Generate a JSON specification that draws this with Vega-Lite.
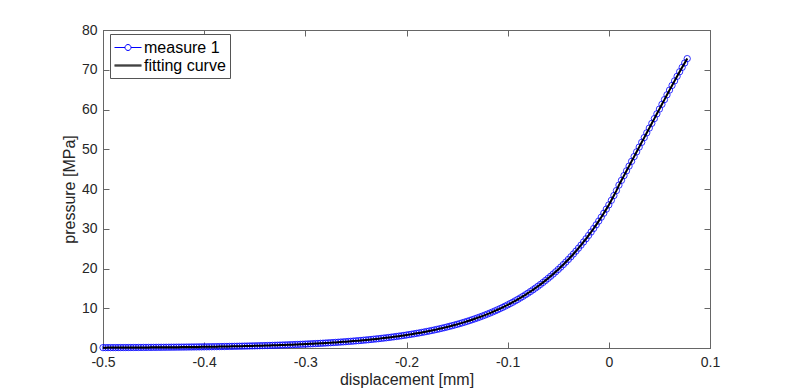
{
  "$schema": "https://vega.github.io/schema/vega-lite/v6.json",
  "width": 607,
  "height": 318,
  "autosize": "none",
  "padding": {"left": 103, "top": 30, "right": 75, "bottom": 44},
  "background": "white",
  "config": {
    "font": "Liberation Sans",
    "view": {"stroke": "#666666", "strokeWidth": 1}
  },
  "data": {"values": [
    {"x":-0.5,"p":0.089},{"x":-0.4975,"p":0.092},{"x":-0.495,"p":0.095},{"x":-0.4925,"p":0.097},
    {"x":-0.49,"p":0.100},{"x":-0.4875,"p":0.103},{"x":-0.485,"p":0.106},{"x":-0.4825,"p":0.109},
    {"x":-0.48,"p":0.113},{"x":-0.4775,"p":0.116},{"x":-0.475,"p":0.120},{"x":-0.4725,"p":0.124},
    {"x":-0.47,"p":0.128},{"x":-0.4675,"p":0.132},{"x":-0.465,"p":0.136},{"x":-0.4625,"p":0.140},
    {"x":-0.46,"p":0.144},{"x":-0.4575,"p":0.148},{"x":-0.455,"p":0.153},{"x":-0.4525,"p":0.158},
    {"x":-0.45,"p":0.163},{"x":-0.4475,"p":0.168},{"x":-0.445,"p":0.173},{"x":-0.4425,"p":0.178},
    {"x":-0.44,"p":0.183},{"x":-0.4375,"p":0.189},{"x":-0.435,"p":0.195},{"x":-0.4325,"p":0.201},
    {"x":-0.43,"p":0.207},{"x":-0.4275,"p":0.213},{"x":-0.425,"p":0.220},{"x":-0.4225,"p":0.226},
    {"x":-0.42,"p":0.233},{"x":-0.4175,"p":0.240},{"x":-0.415,"p":0.247},{"x":-0.4125,"p":0.255},
    {"x":-0.41,"p":0.263},{"x":-0.4075,"p":0.271},{"x":-0.405,"p":0.279},{"x":-0.4025,"p":0.288},
    {"x":-0.4,"p":0.296},{"x":-0.3975,"p":0.305},{"x":-0.395,"p":0.315},{"x":-0.3925,"p":0.324},
    {"x":-0.39,"p":0.334},{"x":-0.3875,"p":0.344},{"x":-0.385,"p":0.355},{"x":-0.3825,"p":0.366},
    {"x":-0.38,"p":0.377},{"x":-0.3775,"p":0.388},{"x":-0.375,"p":0.400},{"x":-0.3725,"p":0.412},
    {"x":-0.37,"p":0.425},{"x":-0.3675,"p":0.438},{"x":-0.365,"p":0.451},{"x":-0.3625,"p":0.465},
    {"x":-0.36,"p":0.479},{"x":-0.3575,"p":0.494},{"x":-0.355,"p":0.509},{"x":-0.3525,"p":0.524},
    {"x":-0.35,"p":0.540},{"x":-0.3475,"p":0.556},{"x":-0.345,"p":0.573},{"x":-0.3425,"p":0.591},
    {"x":-0.34,"p":0.609},{"x":-0.3375,"p":0.627},{"x":-0.335,"p":0.647},{"x":-0.3325,"p":0.666},
    {"x":-0.33,"p":0.686},{"x":-0.3275,"p":0.707},{"x":-0.325,"p":0.729},{"x":-0.3225,"p":0.751},
    {"x":-0.32,"p":0.774},{"x":-0.3175,"p":0.797},{"x":-0.315,"p":0.822},{"x":-0.3125,"p":0.847},
    {"x":-0.31,"p":0.872},{"x":-0.3075,"p":0.899},{"x":-0.305,"p":0.926},{"x":-0.3025,"p":0.954},
    {"x":-0.3,"p":0.984},{"x":-0.2975,"p":1.014},{"x":-0.295,"p":1.045},{"x":-0.2925,"p":1.077},
    {"x":-0.29,"p":1.109},{"x":-0.2875,"p":1.143},{"x":-0.285,"p":1.178},{"x":-0.2825,"p":1.213},
    {"x":-0.28,"p":1.251},{"x":-0.2775,"p":1.289},{"x":-0.275,"p":1.328},{"x":-0.2725,"p":1.369},
    {"x":-0.27,"p":1.410},{"x":-0.2675,"p":1.453},{"x":-0.265,"p":1.497},{"x":-0.2625,"p":1.543},
    {"x":-0.26,"p":1.590},{"x":-0.2575,"p":1.638},{"x":-0.255,"p":1.688},{"x":-0.2525,"p":1.740},
    {"x":-0.25,"p":1.792},{"x":-0.2475,"p":1.847},{"x":-0.245,"p":1.903},{"x":-0.2425,"p":1.961},
    {"x":-0.24,"p":2.021},{"x":-0.2375,"p":2.083},{"x":-0.235,"p":2.146},{"x":-0.2325,"p":2.211},
    {"x":-0.23,"p":2.279},{"x":-0.2275,"p":2.348},{"x":-0.225,"p":2.420},{"x":-0.2225,"p":2.494},
    {"x":-0.22,"p":2.569},{"x":-0.2175,"p":2.647},{"x":-0.215,"p":2.728},{"x":-0.2125,"p":2.811},
    {"x":-0.21,"p":2.897},{"x":-0.2075,"p":2.985},{"x":-0.205,"p":3.076},{"x":-0.2025,"p":3.170},
    {"x":-0.2,"p":3.266},{"x":-0.1975,"p":3.365},{"x":-0.195,"p":3.468},{"x":-0.1925,"p":3.574},
    {"x":-0.19,"p":3.683},{"x":-0.1875,"p":3.795},{"x":-0.185,"p":3.911},{"x":-0.1825,"p":4.030},
    {"x":-0.18,"p":4.152},{"x":-0.1775,"p":4.278},{"x":-0.175,"p":4.409},{"x":-0.1725,"p":4.543},
    {"x":-0.17,"p":4.681},{"x":-0.1675,"p":4.824},{"x":-0.165,"p":4.971},{"x":-0.1625,"p":5.122},
    {"x":-0.16,"p":5.278},{"x":-0.1575,"p":5.439},{"x":-0.155,"p":5.604},{"x":-0.1525,"p":5.775},
    {"x":-0.15,"p":5.951},{"x":-0.1475,"p":6.132},{"x":-0.145,"p":6.319},{"x":-0.1425,"p":6.511},
    {"x":-0.14,"p":6.710},{"x":-0.1375,"p":6.914},{"x":-0.135,"p":7.125},{"x":-0.1325,"p":7.342},
    {"x":-0.13,"p":7.565},{"x":-0.1275,"p":7.795},{"x":-0.125,"p":8.033},{"x":-0.1225,"p":8.277},
    {"x":-0.12,"p":8.530},{"x":-0.1175,"p":8.790},{"x":-0.115,"p":9.058},{"x":-0.1125,"p":9.333},
    {"x":-0.11,"p":9.617},{"x":-0.1075,"p":9.910},{"x":-0.105,"p":10.212},{"x":-0.1025,"p":10.523},
    {"x":-0.1,"p":10.843},{"x":-0.0975,"p":11.173},{"x":-0.095,"p":11.513},{"x":-0.0925,"p":11.864},
    {"x":-0.09,"p":12.226},{"x":-0.0875,"p":12.598},{"x":-0.085,"p":12.982},{"x":-0.0825,"p":13.377},
    {"x":-0.08,"p":13.785},{"x":-0.0775,"p":14.205},{"x":-0.075,"p":14.637},{"x":-0.0725,"p":15.083},
    {"x":-0.07,"p":15.542},{"x":-0.0675,"p":16.015},{"x":-0.065,"p":16.503},{"x":-0.0625,"p":17.005},
    {"x":-0.06,"p":17.524},{"x":-0.0575,"p":18.057},{"x":-0.055,"p":18.608},{"x":-0.0525,"p":19.174},
    {"x":-0.05,"p":19.758},{"x":-0.0475,"p":20.360},{"x":-0.045,"p":20.980},{"x":-0.0425,"p":21.619},
    {"x":-0.04,"p":22.277},{"x":-0.0375,"p":22.955},{"x":-0.035,"p":23.655},{"x":-0.0325,"p":24.375},
    {"x":-0.03,"p":25.117},{"x":-0.0275,"p":25.882},{"x":-0.025,"p":26.670},{"x":-0.0225,"p":27.482},
    {"x":-0.02,"p":28.319},{"x":-0.0175,"p":29.181},{"x":-0.015,"p":30.070},{"x":-0.0125,"p":30.986},
    {"x":-0.01,"p":31.929},{"x":-0.0075,"p":32.901},{"x":-0.005,"p":33.904},{"x":-0.0025,"p":34.936},
    {"x":0,"p":36.0},{"x":0.0025,"p":37.15},{"x":0.005,"p":38.35},{"x":0.0075,"p":39.6},
    {"x":0.01,"p":40.98},{"x":0.0125,"p":42.18},{"x":0.015,"p":43.37},{"x":0.0175,"p":44.57},
    {"x":0.02,"p":45.76},{"x":0.0225,"p":46.96},{"x":0.025,"p":48.15},{"x":0.0275,"p":49.35},
    {"x":0.03,"p":50.54},{"x":0.0325,"p":51.74},{"x":0.035,"p":52.93},{"x":0.0375,"p":54.13},
    {"x":0.04,"p":55.32},{"x":0.0425,"p":56.52},{"x":0.045,"p":57.71},{"x":0.0475,"p":58.91},
    {"x":0.05,"p":60.1},{"x":0.0525,"p":61.3},{"x":0.055,"p":62.49},{"x":0.0575,"p":63.69},
    {"x":0.06,"p":64.88},{"x":0.0625,"p":66.05},{"x":0.065,"p":67.2},{"x":0.0675,"p":68.35},
    {"x":0.07,"p":69.5},{"x":0.0725,"p":70.6},{"x":0.075,"p":71.7},{"x":0.0775,"p":72.8}
  ]},
  "layer": [
    {
      "mark": {"type": "line", "strokeWidth": 0.8, "opacity": 0.6},
      "encoding": {
        "x": {"field": "x", "type": "quantitative",
          "scale": {"domain": [-0.5, 0.1], "nice": false, "zero": false},
          "axis": {"orient": "bottom", "values": [-0.5, -0.4, -0.3, -0.2, -0.1, 0, 0.1],
            "labelExpr": "datum.value == 0 ? '0' : (datum.value < 0 ? '-' : '') + format(abs(datum.value), '.1f')",
            "tickSize": -6, "tickColor": "#666666", "domainColor": "#666666", "grid": false,
            "labelFont": "Liberation Sans", "labelFontSize": 14, "labelColor": "#262626", "labelPadding": 13,
            "labelFlush": false, "labelOverlap": false,
            "title": "displacement [mm]", "titleFont": "Liberation Sans", "titleFontSize": 16, "titleFontWeight": "normal", "titleColor": "#262626", "titlePadding": 2}},
        "y": {"field": "p", "type": "quantitative",
          "scale": {"domain": [0, 80], "nice": false},
          "axis": {"orient": "left", "values": [0, 10, 20, 30, 40, 50, 60, 70, 80],
            "tickSize": -6, "tickColor": "#666666", "domainColor": "#666666", "grid": false,
            "labelFont": "Liberation Sans", "labelFontSize": 14, "labelColor": "#262626", "labelPadding": 12,
            "labelFlush": false, "labelOverlap": false,
            "title": "pressure [MPa]", "titleFont": "Liberation Sans", "titleFontSize": 16, "titleFontWeight": "normal", "titleColor": "#262626", "titlePadding": 4}},
        "color": {"datum": "measure 1",
          "scale": {"domain": ["measure 1", "fitting curve"], "range": ["#0000ff", "#000000"]},
          "legend": {"orient": "none", "legendX": 7, "legendY": 4, "title": null,
            "strokeColor": "#555555", "fillColor": "white", "padding": 4,
            "labelFont": "Liberation Sans", "labelFontSize": 16, "labelColor": "#000000",
            "symbolSize": 324, "labelOffset": 11, "rowPadding": 0, "symbolStrokeWidth": 1,
            "symbolFillColor": "transparent", "symbolOpacity": 1}}
      }
    },
    {
      "mark": {"type": "point", "filled": false, "size": 40, "strokeWidth": 0.8, "opacity": 1},
      "encoding": {
        "x": {"field": "x", "type": "quantitative", "axis": null},
        "y": {"field": "p", "type": "quantitative", "axis": null},
        "color": {"datum": "measure 1"}
      }
    },
    {
      "mark": {"type": "line", "strokeWidth": 2},
      "encoding": {
        "x": {"field": "x", "type": "quantitative",
          "axis": {"orient": "top", "values": [-0.5, -0.4, -0.3, -0.2, -0.1, 0, 0.1], "tickSize": -6, "tickColor": "#666666", "domainColor": "#666666", "grid": false, "labels": false, "title": null}},
        "y": {"field": "p", "type": "quantitative",
          "axis": {"orient": "right", "values": [0, 10, 20, 30, 40, 50, 60, 70, 80], "tickSize": -6, "tickColor": "#666666", "domainColor": "#666666", "grid": false, "labels": false, "title": null}},
        "color": {"datum": "fitting curve"}
      }
    },
    {
      "transform": [{"filter": "false"}],
      "mark": {"type": "point", "filled": false},
      "encoding": {
        "x": {"field": "x", "type": "quantitative", "axis": null},
        "y": {"field": "p", "type": "quantitative", "axis": null},
        "color": {"datum": "measure 1"},
        "shape": {"datum": "measure 1",
          "scale": {"domain": ["measure 1", "fitting curve"],
            "range": ["M-1,0L0.167,0M0.833,0L2,0M0.833,0A0.333,0.333,0,1,1,0.167,0A0.333,0.333,0,1,1,0.833,0", "M-1,-0.056L2,-0.056M-1,0.056L2,0.056"]}}
      }
    }
  ],
  "resolve": {"axis": {"x": "independent", "y": "independent"}}
}
